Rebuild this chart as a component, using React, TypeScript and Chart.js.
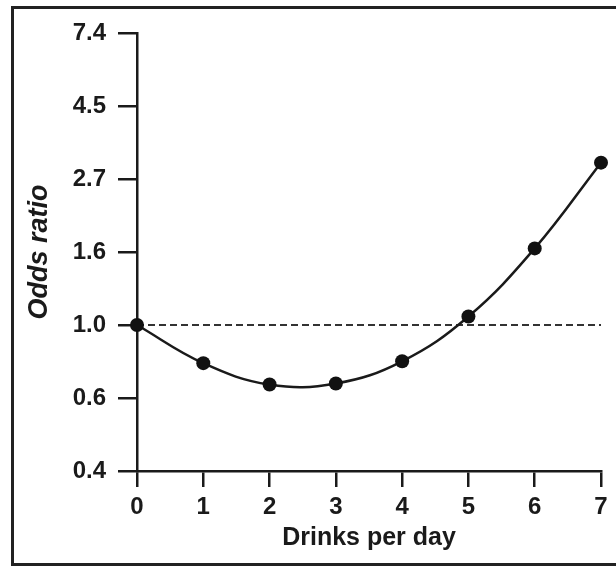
import React, { useEffect, useRef } from "react";
import { Chart, registerables } from "chart.js";

Chart.register(...registerables);

const drinksPerDay = [0, 1, 2, 3, 4, 5, 6, 7];
const oddsRatios = [1.0, 0.77, 0.665, 0.67, 0.78, 1.06, 1.69, 3.04];
const yTickValues = [0.3679, 0.6065, 1.0, 1.6487, 2.7183, 4.4817, 7.3891];
const yTickLabels = ["0.4", "0.6", "1.0", "1.6", "2.7", "4.5", "7.4"];
const referenceLevel = 1.0;
const xTitle = "Drinks per day";
const yTitle = "Odds ratio";

const FONT = "'Liberation Sans', Arial, Helvetica, sans-serif";
const INK = "#1a1a1a";

export default function App() {
  const canvasRef = useRef<HTMLCanvasElement | null>(null);

  useEffect(() => {
    const canvas = canvasRef.current;
    if (!canvas) return;
    const curve = drinksPerDay.map((x, i) => ({ x, y: oddsRatios[i] }));
    const refLine = [
      { x: drinksPerDay[0], y: referenceLevel },
      { x: drinksPerDay[drinksPerDay.length - 1], y: referenceLevel },
    ];
    const chart = new Chart(canvas, {
      type: "line",
      data: {
        datasets: [
          {
            data: curve,
            borderColor: INK,
            borderWidth: 2.5,
            tension: 0.4,
            pointRadius: 7,
            pointBackgroundColor: "#111",
            pointBorderColor: "#111",
            pointBorderWidth: 0,
            clip: false as any,
            order: 1,
          },
          {
            data: refLine,
            borderColor: "#333",
            borderWidth: 2,
            borderDash: [7, 4],
            pointRadius: 0,
            tension: 0,
            clip: false as any,
            order: 2,
          },
        ],
      },
      options: {
        responsive: false,
        animation: false,
        devicePixelRatio: 1,
        layout: { padding: { left: 23, top: 33, right: 15, bottom: 14 } },
        plugins: { legend: { display: false }, tooltip: { enabled: false } },
        scales: {
          x: {
            type: "linear",
            min: 0,
            max: 7,
            afterFit: (s: any) => {
              s.height = 82;
            },
            border: { display: true, color: INK, width: 2.5 },
            grid: {
              drawOnChartArea: false,
              drawTicks: true,
              tickLength: 16,
              color: INK,
              lineWidth: 2.5,
            },
            ticks: {
              stepSize: 1,
              padding: 6,
              color: INK,
              font: { family: FONT, size: 24, weight: "bold" },
            },
            title: {
              display: true,
              text: xTitle,
              color: INK,
              padding: 0,
              font: { family: FONT, size: 25, weight: "bold" },
            },
          },
          y: {
            type: "logarithmic",
            min: yTickValues[0],
            max: yTickValues[yTickValues.length - 1],
            afterFit: (s: any) => {
              s.width = 114;
            },
            afterBuildTicks: (s: any) => {
              s.ticks = yTickValues.map((v) => ({ value: v }));
            },
            border: { display: true, color: INK, width: 2.5 },
            grid: {
              drawOnChartArea: false,
              drawTicks: true,
              tickLength: 19,
              color: INK,
              lineWidth: 2.5,
            },
            ticks: {
              padding: 12,
              color: INK,
              autoSkip: false,
              font: { family: FONT, size: 24, weight: "bold" },
              callback: (_v: any, i: number) => yTickLabels[i],
            },
            title: {
              display: true,
              text: yTitle,
              color: INK,
              padding: 0,
              font: { family: FONT, size: 27, style: "italic", weight: "bold" },
            },
          },
        },
      },
    } as any);
    return () => chart.destroy();
  }, []);

  return (
    <div
      style={{
        position: "fixed",
        left: 0,
        top: 0,
        width: 616,
        height: 567,
        background: "#fff",
        overflow: "hidden",
      }}
    >
      <canvas
        ref={canvasRef}
        width={616}
        height={567}
        style={{ position: "absolute", left: 0, top: 0, width: 616, height: 567 }}
      />
      <div
        style={{
          position: "absolute",
          left: 11,
          top: 6,
          width: 620,
          height: 560,
          boxSizing: "border-box",
          border: "3px solid #222",
          pointerEvents: "none",
        }}
      />
    </div>
  );
}
